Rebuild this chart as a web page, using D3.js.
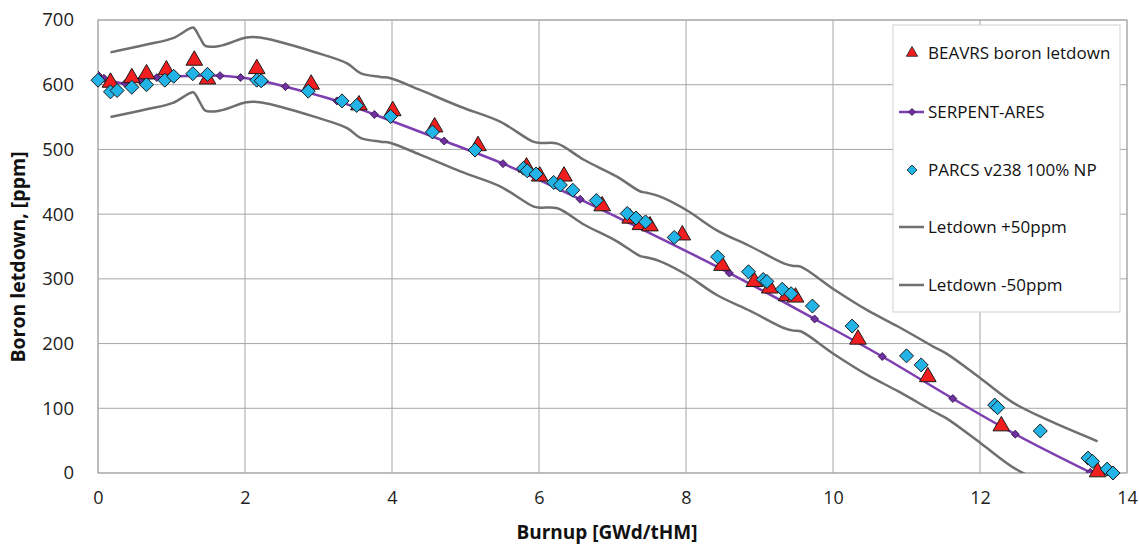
<!DOCTYPE html>
<html><head><meta charset="utf-8">
<script src="https://cdn.jsdelivr.net/npm/d3@7"></script>
<style>
html,body{margin:0;padding:0;background:#fff;}
svg{display:block;font-family:"Open Sans","Noto Sans",sans-serif;}
</style></head>
<body>
<svg id="chart" width="1139" height="545"></svg>
<script>
// ---- data ----
const xTicks = [0, 2, 4, 6, 8, 10, 12, 14];
const yTicks = [0, 100, 200, 300, 400, 500, 600, 700];

const beavrsX = [0.17,0.46,0.66,0.93,1.31,1.49,2.16,2.90,3.55,4.01,4.58,5.17,5.83,6.01,6.34,6.86,7.24,7.38,7.51,7.95,8.49,8.93,9.14,9.37,9.49,10.34,11.29,12.29,13.60];
const beavrsY = [602,609,615,621,636,607,623,599,567,558,533,504,471,457,457,411,392,382,380,366,319,294,284,272,270,205,147,71,0];

const serpentX = [0.00,0.08,0.37,0.57,0.80,1.66,1.94,2.26,2.55,3.25,3.76,4.71,5.51,6.56,8.59,9.75,10.67,11.63,12.48,13.50];
const serpentY = [615,610,602,607,611,614,611,605,597,575,554,513,478,423,309,238,180,115,60,1];

const parcsX = [0.00,0.17,0.26,0.46,0.66,0.91,1.03,1.29,1.49,2.16,2.22,2.86,3.32,3.52,3.98,4.55,5.13,5.79,5.84,5.96,6.20,6.29,6.46,6.78,7.20,7.32,7.45,7.84,8.43,8.85,9.05,9.10,9.31,9.43,9.72,10.26,11.00,11.20,12.20,12.24,12.82,13.47,13.53,13.73,13.81];
const parcsY = [607,589,591,596,600,607,613,617,616,607,606,590,575,568,551,527,499,471,467,462,449,445,437,421,401,394,388,364,334,311,299,296,284,277,258,227,181,167,105,101,65,23,18,6,0];

const letdownX     = [0.17,0.66,1.02,1.25,1.30,1.39,1.46,1.66,2.02,2.20,2.48,2.93,3.39,3.57,3.84,3.98,4.38,4.93,5.47,5.92,6.02,6.25,6.61,7.06,7.38,7.47,7.65,8.01,8.42,8.88,9.33,9.46,9.56,10.01,10.46,10.89,11.37,11.55,12.01,12.46,12.92,13.60];
const letdownPlus  = [650,662,672,687,688,672,660,660,673,673,666,651,633,618,612,610,592,566,543,512,510,509,484,458,435,433,427,406,375,350,324,320,319,284,252,226,195,184,146,108,82,49];
const letdownMinus = [550,562,572,587,588,572,560,560,573,573,566,551,533,518,512,510,492,466,443,412,410,409,384,358,335,333,327,306,275,250,224,220,219,184,152,126,95,84,46,8,-18,-51];

const legendLabels = ["BEAVRS boron letdown","SERPENT-ARES","PARCS v238 100% NP","Letdown +50ppm","Letdown -50ppm"];

// ---- layout ----
const svg = d3.select("#chart");
const L = 98, T = 20, R = 1127, B = 473;
const x = d3.scaleLinear().domain([0, 14]).range([L, R]);
const y = d3.scaleLinear().domain([0, 700]).range([B, T]);

const gridC = "#a6a6a6";
svg.append("g").selectAll("line").data(yTicks).join("line")
  .attr("x1", L).attr("x2", R).attr("y1", d => y(d)).attr("y2", d => y(d))
  .attr("stroke", gridC).attr("stroke-width", 1);
svg.append("g").selectAll("line").data(xTicks).join("line")
  .attr("y1", T).attr("y2", B).attr("x1", d => x(d)).attr("x2", d => x(d))
  .attr("stroke", gridC).attr("stroke-width", 1);
svg.append("rect").attr("x", L).attr("y", T).attr("width", R - L).attr("height", B - T)
  .attr("fill", "none").attr("stroke", gridC).attr("stroke-width", 1);

const xAxis = d3.axisBottom(x).tickValues(xTicks).tickSize(0).tickPadding(18);
const gx = svg.append("g").attr("transform", `translate(0,${B})`).call(xAxis);
gx.select(".domain").remove();
gx.selectAll("text").attr("font-size", 18).attr("fill", "#222").attr("font-family", "'Open Sans',sans-serif");

const yAxis = d3.axisLeft(y).tickValues(yTicks).tickSize(0).tickPadding(24);
const gy = svg.append("g").attr("transform", `translate(${L},0)`).call(yAxis);
gy.select(".domain").remove();
gy.selectAll("text").attr("font-size", 18.5).attr("fill", "#222").attr("font-family", "'Open Sans',sans-serif");

svg.append("text").attr("x", 607).attr("y", 539).attr("text-anchor", "middle")
  .attr("font-weight", "bold").attr("font-size", 19).attr("fill", "#111").text("Burnup [GWd/tHM]");
svg.append("text").attr("transform", `translate(25,257) rotate(-90)`).attr("text-anchor", "middle")
  .attr("font-weight", "bold").attr("font-size", 19.5).attr("fill", "#111").text("Boron letdown, [ppm]");

svg.append("clipPath").attr("id", "clip").append("rect")
  .attr("x", L).attr("y", T).attr("width", R - L).attr("height", B - T);
const plot = svg.append("g").attr("clip-path", "url(#clip)");

const smooth = d3.line().curve(d3.curveCatmullRom.alpha(0.5));
const grayC = "#6f6f6f";
plot.append("path").attr("d", smooth(letdownX.map((d, i) => [x(d), y(letdownPlus[i])])))
  .attr("fill", "none").attr("stroke", grayC).attr("stroke-width", 2.5);
plot.append("path").attr("d", smooth(letdownX.map((d, i) => [x(d), y(letdownMinus[i])])))
  .attr("fill", "none").attr("stroke", grayC).attr("stroke-width", 2.5);

const purple = "#7030a0";
const purpleLine = "#7d3fb0";
plot.append("path").attr("d", smooth(serpentX.map((d, i) => [x(d), y(serpentY[i])])))
  .attr("fill", "none").attr("stroke", purpleLine).attr("stroke-width", 2.5);

const red = "#f01e1e", blue = "#22b4e6", outline = "#1a1a1a";
const tri = d3.symbol().type(d3.symbolTriangle).size(120);
const dia = (s) => `M0,${-s}L${s},0L0,${s}L${-s},0Z`;

plot.append("g").selectAll("path").data(serpentX).join("path")
  .attr("transform", (d, i) => `translate(${x(d)},${y(serpentY[i])})`)
  .attr("d", dia(4)).attr("fill", purple).attr("stroke", "#2a1040").attr("stroke-width", 0.8);

svg.append("g").selectAll("path").data(beavrsX).join("path")
  .attr("transform", (d, i) => `translate(${x(d)},${y(beavrsY[i]) - 1})`)
  .attr("d", tri).attr("fill", red).attr("stroke", outline).attr("stroke-width", 1);

svg.append("g").selectAll("path").data(parcsX).join("path")
  .attr("transform", (d, i) => `translate(${x(d)},${y(parcsY[i])})`)
  .attr("d", dia(7)).attr("fill", blue).attr("stroke", outline).attr("stroke-width", 1);

const lg = svg.append("g");
lg.append("rect").attr("x", 893).attr("y", 25).attr("width", 227).attr("height", 287)
  .attr("fill", "#fff").attr("stroke", "#d0d0d0").attr("stroke-width", 1);
const ly = [53, 112, 170, 227, 285];
const lx = 912, tx = 928;
lg.append("path").attr("transform", `translate(${lx},${ly[0]})`).attr("d", d3.symbol().type(d3.symbolTriangle).size(55))
  .attr("fill", red).attr("stroke", outline).attr("stroke-width", 0.8);
lg.append("line").attr("x1", 899).attr("x2", 924).attr("y1", ly[1]).attr("y2", ly[1]).attr("stroke", purpleLine).attr("stroke-width", 2.5);
lg.append("path").attr("transform", `translate(${lx},${ly[1]})`).attr("d", dia(3.5))
  .attr("fill", purple).attr("stroke", "#2a1040").attr("stroke-width", 0.8);
lg.append("path").attr("transform", `translate(${lx},${ly[2]})`).attr("d", dia(5))
  .attr("fill", blue).attr("stroke", outline).attr("stroke-width", 0.8);
[3, 4].forEach(i => lg.append("line").attr("x1", 899).attr("x2", 924).attr("y1", ly[i]).attr("y2", ly[i])
  .attr("stroke", grayC).attr("stroke-width", 2.5));
lg.selectAll("text.lab").data(legendLabels).join("text").attr("class", "lab")
  .attr("x", tx).attr("y", (d, i) => ly[i]).attr("dy", "0.35em")
  .attr("font-size", 17).attr("fill", "#111").text(d => d);
</script>
</body></html>
